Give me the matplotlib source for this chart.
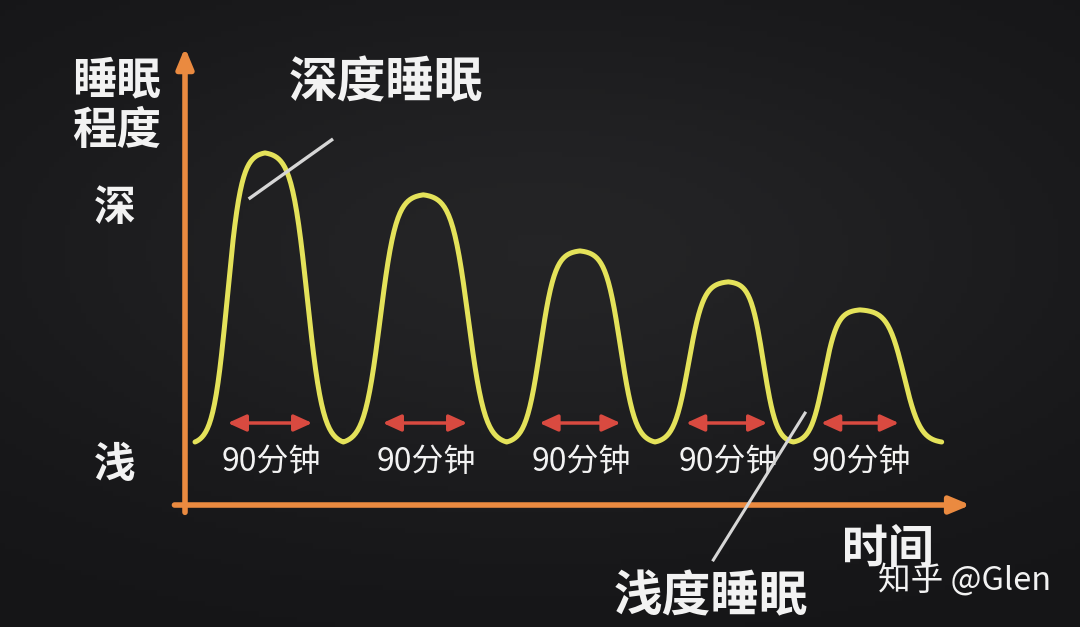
import matplotlib
matplotlib.use("Agg")
import matplotlib.pyplot as plt
import numpy as np

plt.rcParams['font.family'] = ['Noto Sans CJK SC', 'DejaVu Sans']

# sleep cycles (time in minutes, depth 0 = light, 1 = deepest)
trough_t = [0, 89, 187, 276, 359, 448]
peak_t = [42, 137, 231, 320, 399]
peak_depth = [1.0, 0.855, 0.661, 0.554, 0.457]
arrow_start = [18, 111, 205, 293, 374]
arrow_end = [72, 165, 257, 345, 424]
cycle_label = '90分钟'

BG = '#1d1d1f'
YELLOW = '#e4e25a'
ORANGE = '#ea8a40'
RED = '#d94a40'
WHITE = '#f2f2f2'

fig = plt.figure(figsize=(10.8, 6.27), dpi=100, facecolor=BG)
ax = fig.add_axes([0, 0, 1, 1])
ax.set_facecolor(BG)
ax.set_xlim(-117, 531)
ax.set_ylim(-0.640, 1.529)
ax.axis('off')

# soft background shading
gx, gy = np.meshgrid(np.linspace(-1, 1, 200), np.linspace(-1, 1, 120))
glow = np.exp(-(gx**2 * 0.9 + (gy + 0.2)**2 * 1.4))
ax.imshow(glow, extent=(-117, 531, -0.640, 1.529), aspect='auto',
          cmap=matplotlib.colors.LinearSegmentedColormap.from_list('bg', ['#151517', '#242426']),
          zorder=0)


def ramp(u, k=10.0, u0=0.46):
    # s-shaped rise from trough (u=0) to peak (u=1)
    lo = 1 / (1 + np.exp(k * u0))
    hi = 1 / (1 + np.exp(-k * (1 - u0)))
    return (1 / (1 + np.exp(-k * (u - u0))) - lo) / (hi - lo)


xs, ys = [], []
u = np.linspace(0, 1, 80)
for i in range(len(peak_t)):
    a, p, b, h = trough_t[i], peak_t[i], trough_t[i + 1], peak_depth[i]
    xs += list(a + (p - a) * u)
    ys += list(h * ramp(u))
    xs += list(p + (b - p) * u)
    ys += list(h * ramp(1 - u))
ax.plot(xs, ys, color=YELLOW, lw=3.6, solid_capstyle='round', zorder=3)

# axes arrows
ax.annotate('', xy=(-6, 1.374), xytext=(-6, -0.253),
            arrowprops=dict(arrowstyle='-|>,head_length=1.2,head_width=0.5',
                            color=ORANGE, lw=4), zorder=2)
ax.annotate('', xy=(467, -0.218), xytext=(-14, -0.218),
            arrowprops=dict(arrowstyle='-|>,head_length=1.2,head_width=0.5',
                            color=ORANGE, lw=4), zorder=2)

# 90 minute arrows and labels
for s, e in zip(arrow_start, arrow_end):
    ax.annotate('', xy=(e, 0.0657), xytext=(s, 0.0657),
                arrowprops=dict(arrowstyle='<|-|>,head_length=1.1,head_width=0.5',
                                color=RED, lw=2.5), zorder=4)
    ax.text((s + e) / 2 + 1, -0.069, cycle_label, color=WHITE, fontsize=23,
            fontweight='medium', ha='center', va='center', zorder=5)

# axis labels
ax.text(-47, 1.163, '睡眠\n程度', color=WHITE, fontsize=32, fontweight='bold',
        ha='center', va='center', linespacing=1.12)
ax.text(-48, 0.81, '深', color=WHITE, fontsize=30, fontweight='bold',
        ha='center', va='center')
ax.text(-48, -0.08, '浅', color=WHITE, fontsize=30, fontweight='bold',
        ha='center', va='center')
ax.text(416, -0.377, '时间', color=WHITE, fontsize=33, fontweight='bold',
        ha='center', va='center')

# annotations
ax.plot([33, 82], [0.844, 1.045], color='#d6d6d6', lw=2.4, zorder=6)
ax.text(56, 1.242, '深度睡眠', color=WHITE, fontsize=35, fontweight='bold',
        ha='left', va='center')
ax.plot([311, 366], [-0.408, 0.100], color='#d6d6d6', lw=2.2, zorder=6)
ax.text(251, -0.536, '浅度睡眠', color=WHITE, fontsize=35, fontweight='bold',
        ha='left', va='center')

ax.text(410, -0.4775, '知乎 @Glen', color=WHITE, fontsize=23.5,
        ha='left', va='center', zorder=7)

fig.savefig('out.png', dpi=100, facecolor=BG)
